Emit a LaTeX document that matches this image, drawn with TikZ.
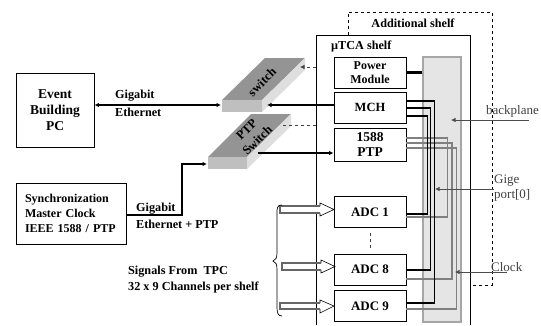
\documentclass[tikz,border=0pt]{standalone}
\usepackage{fontspec}
\setmainfont{Liberation Serif}
\usetikzlibrary{arrows.meta}
\tikzset{
  box/.style={draw=black,line width=0.9pt,fill=white,minimum width=#1,inner sep=0pt,align=center,font=\fontsize{13}{15}\selectfont\bfseries},
  lab/.style={inner sep=0pt,align=left,anchor=west,font=\fontsize{12.2}{15}\selectfont\bfseries},
  plain/.style={inner sep=0pt,align=left,anchor=west,font=\fontsize{13}{15}\selectfont,text=black!75},
  blk/.style={draw=black,line width=1.3pt},
  gry/.style={draw=black!50,line width=1.3pt},
  conn/.style={draw=black,line width=1.2pt,-{Latex[length=4.5pt,width=4.5pt]}},
  thin arrow/.style={draw=black!70,line width=0.7pt,-{Latex[length=4.5pt,width=4.5pt]}},
  sighead/.style={draw=black,line width=0.6pt,fill=white},
  sigedge/.style={draw=black!60,line width=1.3pt},
  swtop/.style={fill=black!42},
  swfront/.style={fill=black!25},
  swside/.style={fill=black!13},
}
\begin{document}
\begin{tikzpicture}[x=1pt,y=-1pt]
\useasboundingbox (0,0) rectangle (541,325);
\fill[white] (0,0) rectangle (541,325);
% additional shelf
\coordinate (ad1) at (348,35);
\coordinate (ad2) at (348,12);
\coordinate (ad3) at (492,12);
\coordinate (ad4) at (492,285);
\coordinate (ad5) at (471,285);
\draw[black,dashed,line width=0.8pt] (ad1) -- (ad2) -- (ad3) -- (ad4) -- (ad5);
\node[inner sep=0pt,font=\fontsize{12.2}{14}\selectfont\bfseries] (addl) at (413,23) {Additional shelf};
% uTCA shelf
\coordinate (sh1) at (316,325);
\coordinate (sh2) at (316,35.5);
\coordinate (sh3) at (470,35.5);
\coordinate (sh4) at (470,325);
\draw[black,line width=0.9pt] (sh1) -- (sh2) -- (sh3) -- (sh4);
\node[lab] (ushelf) at (331,46) {µTCA shelf};
% backplane
\node[draw=black!35,line width=1.2pt,fill=black!10,minimum width=38pt,minimum height=265pt,inner sep=0pt] (bp) at (442,189.5) {};
% boxes
\node[box=72pt,minimum height=31pt,font=\fontsize{12}{14}\selectfont\bfseries] (pwr) at (370,72.5) {Power\\Module};
\node[box=72pt,minimum height=31pt,font=\fontsize{12.5}{15}\selectfont\bfseries] (mch) at (370,107.75) {MCH};
\node[box=72pt,minimum height=33pt,font=\fontsize{13.5}{15.5}\selectfont\bfseries] (ptp) at (370,144.5) {1588\\PTP};
\node[box=72pt,minimum height=30.5pt] (adc1) at (370,212) {ADC 1};
\node[box=72pt,minimum height=31pt] (adc8) at (370,269.5) {ADC 8};
\node[box=72pt,minimum height=30.5pt] (adc9) at (370,306) {ADC 9};
\node[box=78pt,minimum height=74pt,font=\fontsize{13.5}{16}\selectfont\bfseries] (ev) at (55,110.5) {Event\\Building\\PC};
\node[box=110pt,minimum height=61pt,text width=92pt,align=left,font=\fontsize{12}{15}\selectfont\bfseries] (sync) at (71,213.5) {Synchronization\\Master Clock\\IEEE 1588 / PTP};
% power feed
\draw[black,line width=3.2pt] (pwr.east) -- (pwr.east -| bp.west);
% gray clock lines
\draw[gry] ([yshift=6.5pt]ptp.east) -- ++(41,0) |- ([yshift=-5pt]adc1.east);
\draw[gry] ([yshift=1.5pt]ptp.east) -- ++(45.5,0) |- ([yshift=-9.5pt]adc8.east);
\draw[gry] ([yshift=-3.5pt]ptp.east) -- ++(50,0) |- ([yshift=-3pt]adc9.east);
% black gige lines
\draw[blk] ([yshift=-8.25pt]mch.east) -- ++(21,0) |- ([yshift=-2pt]adc1.east);
\draw[blk] ([yshift=-0.25pt]mch.east) -- ++(24,0) |- ([yshift=-0.5pt]adc8.east);
\draw[blk] ([yshift=6.75pt]mch.east) -- ++(28,0) |- ([yshift=3pt]adc9.east);
% switches
\coordinate (sa) at (222,100); \coordinate (sb) at (262,100);
\coordinate (sc) at (305,58);  \coordinate (sd) at (265,58);
\coordinate (se) at (305,70);  \coordinate (sf) at (262,112);
\coordinate (sg) at (222,112);
\fill[swtop] (sa) -- (sb) -- (sc) -- (sd) -- cycle;
\fill[swfront] (sa) -- (sb) -- (sf) -- (sg) -- cycle;
\fill[swside] (sb) -- (sc) -- (se) -- (sf) -- cycle;
\node[rotate=45,inner sep=0pt,font=\fontsize{12.5}{13}\selectfont\bfseries] (swl) at (262,82) {switch};
\coordinate (pa) at (208,157); \coordinate (pb) at (247,157);
\coordinate (pc) at (291,114); \coordinate (pd) at (251,114);
\coordinate (pe) at (291,126); \coordinate (pf) at (247,169);
\coordinate (pg) at (208,169);
\fill[swtop] (pa) -- (pb) -- (pc) -- (pd) -- cycle;
\fill[swfront] (pa) -- (pb) -- (pf) -- (pg) -- cycle;
\fill[swside] (pb) -- (pc) -- (pe) -- (pf) -- cycle;
\node[rotate=45,inner sep=0pt,align=center,font=\fontsize{12.5}{15}\selectfont\bfseries] (ptl) at (252,135) {PTP\\Switch};
% connectors
\coordinate (swin) at (221,105);
\coordinate (swin2) at (267,105);
\coordinate (swin3) at (300,67);
\coordinate (swout) at (258,153);
\coordinate (ptin) at (207,164);
\coordinate (pdash) at (283,125);
\coordinate (syncr) at (182,215);
\draw[conn,{Latex[length=4.5pt,width=4.5pt]}-{Latex[length=4.5pt,width=4.5pt]}] (ev.east |- swin) -- (swin);
\draw[conn] (mch.west |- swin2) -- (swin2);
\draw[conn] (swout) -- (ptp.west |- swout);
\draw[conn] (sync.east |- syncr) -- (syncr) |- (ptin);
\draw[black!75,dashed,line width=0.7pt,-{Latex[length=4.5pt,width=4.5pt]}] (sh2 |- swin3) -- (swin3);
\draw[black!75,dashed,line width=0.7pt] (pdash) -- (sh2 |- pdash);
% signal arrows
\fill[white] (280,206) rectangle (320,213);
\draw[sighead] (320,206) -- (320,203) -- (334,209.5) -- (320,216) -- (320,213);
\draw[sigedge] (320,206) -- (280,206) -- (280,213) -- (320,213);
\draw[sighead] (321,263) -- (321,260) -- (335,266.5) -- (321,273) -- (321,270);
\draw[sigedge] (321,263) -- (282,263) -- (282,270) -- (321,270);
\draw[sighead] (320,303) -- (320,300) -- (334,306) -- (320,313) -- (320,309);
\draw[sigedge] (320,303) -- (280,303) -- (280,309) -- (320,309);
% brace
\coordinate (b1) at (282,205); \coordinate (b2) at (273,261); \coordinate (b3) at (282,316);
\draw[black,line width=0.7pt] (b1) .. controls (277,205) and (277,208) .. (277,214) -- (277,252) .. controls (277,258) and (276,260) .. (b2) .. controls (276,262) and (277,264) .. (277,270) -- (277,307) .. controls (277,313) and (278,316) .. (b3);
% ellipsis
\draw[black!75,dashed,line width=0.7pt] ([yshift=-5pt]adc1.south) -- ([yshift=4pt]adc8.north);
% labels
\node[lab] (g1) at (115,96) {Gigabit};
\node[lab] (g2) at (115,112) {Ethernet};
\node[lab] (g3) at (136,209) {Gigabit};
\node[lab] (g4) at (136,224) {Ethernet + PTP};
\node[lab] (sig1) at (128,272) {Signals From\ \ TPC};
\node[lab] (sig2) at (128,287) {32 x 9 Channels per shelf};
\node[plain] (bpl) at (486,111) {backplane};
\node[plain] (gige) at (494,188.5) {Gige\\port[0]};
\node[plain] (clk) at (491,267) {Clock};
\coordinate (bpe) at (529,120); \coordinate (bpa) at (451,120);
\coordinate (gie) at (494,189); \coordinate (gia) at (435,189);
\coordinate (cle) at (507,272); \coordinate (cla) at (455,272);
\draw[thin arrow] (bpe) -- (bpa);
\draw[thin arrow] (gie) -- (gia);
\draw[thin arrow] (cle) -- (cla);
\end{tikzpicture}
\end{document}
